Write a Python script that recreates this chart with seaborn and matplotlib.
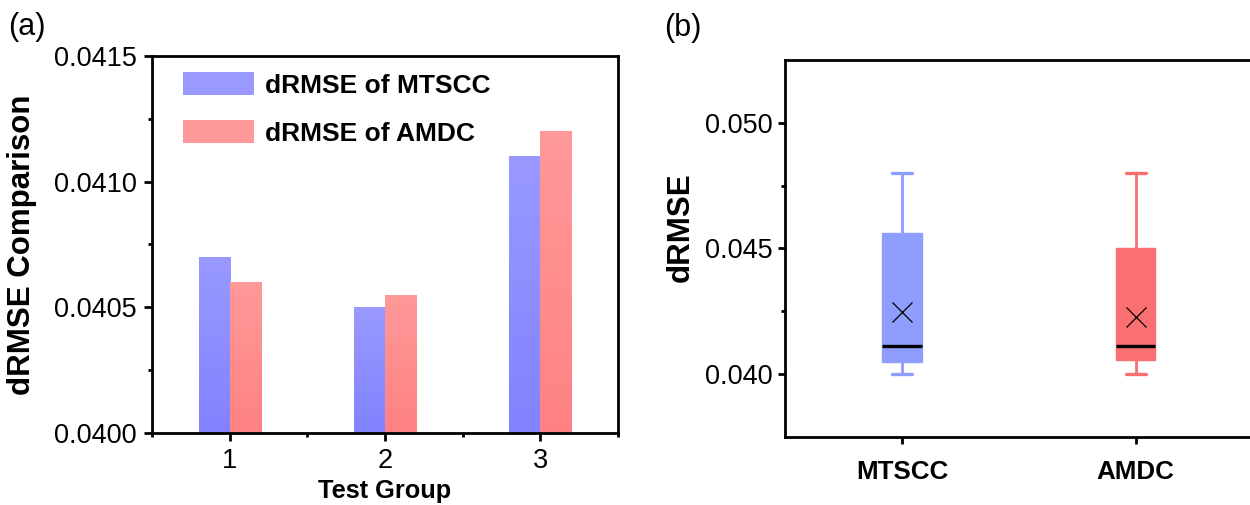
import numpy as np
import pandas as pd
import matplotlib
matplotlib.use("Agg")
import matplotlib.pyplot as plt
from matplotlib.patches import Patch
from matplotlib.ticker import MultipleLocator, FixedLocator
from matplotlib.colors import to_rgb
import seaborn as sns

# ---------------------------------------------------------------------------
# data
# ---------------------------------------------------------------------------
GROUPS      = ["1", "2", "3"]
METHODS     = ["dRMSE of MTSCC", "dRMSE of AMDC"]
MTSCC_DRMSE = [0.0407, 0.0405, 0.0411]
AMDC_DRMSE  = [0.0406, 0.04055, 0.0412]

BOX_LABELS = ["MTSCC", "AMDC"]
BOX_MIN    = [0.0400, 0.0400]
BOX_Q1     = [0.04046, 0.04056]
BOX_MED    = [0.0411, 0.0411]
BOX_Q3     = [0.04563, 0.04503]
BOX_MAX    = [0.0480, 0.0480]
BOX_MEAN   = [0.04245, 0.04228]

# styles
BAR_TOP    = {"dRMSE of MTSCC": "#9999FF", "dRMSE of AMDC": "#FF9999"}
BAR_BOTTOM = {"dRMSE of MTSCC": "#8282FF", "dRMSE of AMDC": "#FF8282"}
BOX_COLORS = ["#8F9DFF", "#FA7070"]

sns.set_theme(style="ticks")
plt.rcParams["font.family"] = ["Liberation Sans", "DejaVu Sans"]
plt.rcParams.update({
    "axes.linewidth": 2.0,
    "axes.edgecolor": "black",
    "axes.labelcolor": "black",
    "text.color": "black",
    "xtick.color": "black",
    "ytick.color": "black",
})

W, H = 1250, 505
fig = plt.figure(figsize=(W / 100, H / 100), dpi=100)
ax1 = fig.add_axes([152 / W, 1 - 432.7 / H, 466 / W, 376.7 / H])
ax2 = fig.add_axes([785 / W, 1 - 436.7 / H, 467.5 / W, 376.7 / H])

# ─────────────────────────────────────────────────────────────────────────────
# (a) grouped bars with vertical gradient
# ─────────────────────────────────────────────────────────────────────────────
df = pd.DataFrame({
    "group":  GROUPS * 2,
    "method": [METHODS[0]] * len(GROUPS) + [METHODS[1]] * len(GROUPS),
    "value":  MTSCC_DRMSE + AMDC_DRMSE,
})
sns.barplot(data=df, x="group", y="value", hue="method", order=GROUPS,
            hue_order=METHODS, palette=BAR_TOP, width=0.4, errorbar=None,
            saturation=1, linewidth=0, legend=False, ax=ax1)

ylim1 = (0.0400, 0.0415)
ax1.set_ylim(*ylim1)
for method, cont in zip(METHODS, ax1.containers):
    top, bot = np.array(to_rgb(BAR_TOP[method])), np.array(to_rgb(BAR_BOTTOM[method]))
    t = np.linspace(0, 1, 256)[:, None]
    grad = (top[None, :] * (1 - t) + bot[None, :] * t)[:, None, :]
    for bar in cont:
        x0, w, h = bar.get_x(), bar.get_width(), bar.get_height()
        im = ax1.imshow(grad, extent=(x0, x0 + w, ylim1[0], h), aspect="auto",
                        interpolation="bilinear", zorder=bar.get_zorder())
        im.set_clip_path(bar)
        bar.set_facecolor("none")
ax1.set_xlim(-0.5, 2.5)
ax1.set_ylim(*ylim1)

ax1.set_yticks([0.0400, 0.0405, 0.0410, 0.0415])
ax1.set_yticklabels([f"{v:.4f}" for v in [0.0400, 0.0405, 0.0410, 0.0415]])
ax1.yaxis.set_minor_locator(MultipleLocator(0.00025))
ax1.xaxis.set_minor_locator(FixedLocator([-0.5, 0.5, 1.5, 2.5]))
ax1.tick_params(which="major", direction="out", length=6, width=2,
                labelsize=19.5, pad=5)
ax1.tick_params(which="minor", direction="out", length=3, width=2)
ax1.set_xlabel("Test Group", fontsize=18.3, fontweight="bold")
ax1.xaxis.set_label_coords(0.5, -0.122)
ax1.set_ylabel("dRMSE Comparison", fontsize=22.5, fontweight="bold")
ax1.yaxis.set_label_coords(-0.246, 0.5)

handles = [Patch(facecolor=BAR_TOP[m], edgecolor="none") for m in METHODS]
ax1.legend(handles, METHODS, loc="upper left", bbox_to_anchor=(0.044, 0.985),
           frameon=False, prop=dict(size=19, weight="bold"), handlelength=2.7,
           handleheight=0.95, handletextpad=0.4, labelspacing=0.85,
           borderaxespad=0)

# ─────────────────────────────────────────────────────────────────────────────
# (b) box plot from the summary statistics
# ─────────────────────────────────────────────────────────────────────────────
stats = [dict(label=l, whislo=a, q1=b, med=c, q3=d, whishi=e, mean=m)
         for l, a, b, c, d, e, m in zip(BOX_LABELS, BOX_MIN, BOX_Q1, BOX_MED,
                                        BOX_Q3, BOX_MAX, BOX_MEAN)]
bp = ax2.bxp(stats, positions=[0, 1], widths=0.17, capwidths=0.086,
             patch_artist=True, showmeans=True, showfliers=False,
             meanprops=dict(marker="x", markersize=14, markeredgecolor="black",
                            markeredgewidth=0.9, linestyle="none"),
             medianprops=dict(color="black", linewidth=2.4, solid_capstyle="butt"),
             whiskerprops=dict(linewidth=2), capprops=dict(linewidth=2.4))
for i, col in enumerate(BOX_COLORS):
    bp["boxes"][i].set_facecolor(col)
    bp["boxes"][i].set_edgecolor(col)
    bp["boxes"][i].set_linewidth(1)
    for ln in bp["whiskers"][2 * i:2 * i + 2] + bp["caps"][2 * i:2 * i + 2]:
        ln.set_color(col)

ax2.set_xlim(-0.5, 1.5)
ax2.set_ylim(0.0375, 0.0525)
ax2.set_yticks([0.040, 0.045, 0.050])
ax2.set_yticklabels([f"{v:.3f}" for v in [0.040, 0.045, 0.050]])
ax2.yaxis.set_minor_locator(FixedLocator([0.0425, 0.0475]))
ax2.set_xticks([0, 1])
ax2.set_xticklabels(BOX_LABELS, fontweight="bold", fontsize=18.7)
ax2.tick_params(axis="y", which="major", direction="out", length=5, width=2,
                labelsize=19.5, pad=4)
ax2.tick_params(axis="x", which="major", direction="out", length=5, width=2,
                pad=12)
ax2.tick_params(which="minor", direction="out", length=3, width=2)
ax2.set_ylabel("dRMSE", fontsize=22.5, fontweight="bold")
ax2.yaxis.set_label_coords(-0.19, 0.555)

fig.text(8 / W, 1 - 27 / H, "(a)", fontsize=22, ha="left", va="center")
fig.text(664 / W, 1 - 28 / H, "(b)", fontsize=22, ha="left", va="center")

fig.savefig("out.png", dpi=100)
